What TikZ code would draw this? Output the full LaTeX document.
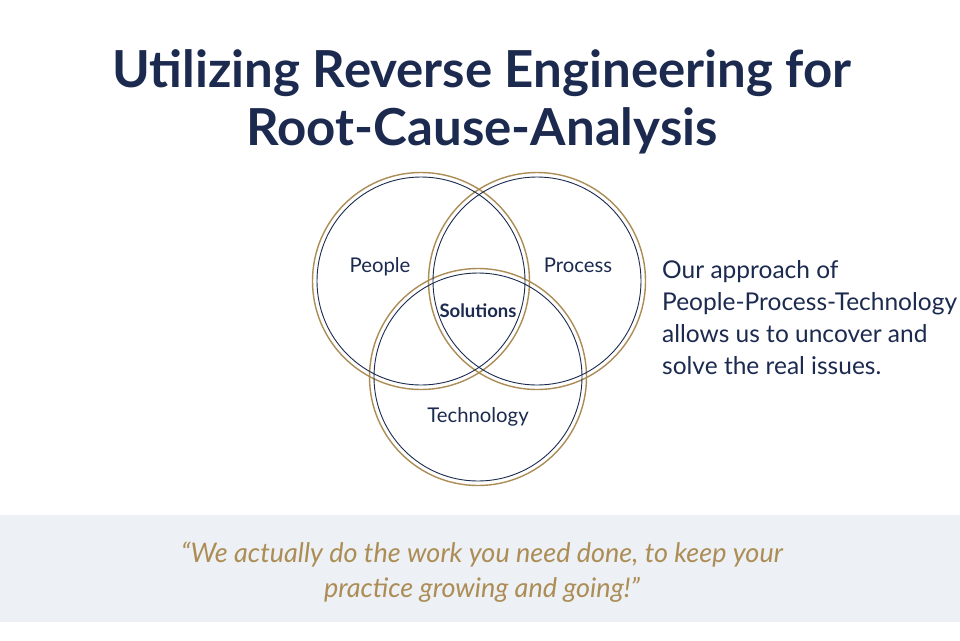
\documentclass[tikz,border=0pt]{standalone}
\usepackage{fontspec}
\setmainfont{Lato}
\usepackage{xcolor}
\usetikzlibrary{positioning}

\definecolor{navy}{HTML}{1B2A4E}
\definecolor{gold}{HTML}{AC8D55}
\definecolor{band}{HTML}{EDF0F4}

\begin{document}
\begin{tikzpicture}[
    x=1pt, y=-1pt,
    ring/.style={draw=gold, line width=1.4pt, circle, minimum size=217pt, inner sep=0pt},
    inring/.style={draw=navy, line width=0.9pt},
    lbl/.style={text=navy, anchor=base, font=\fontsize{20.3}{23}\selectfont},
    quote/.style={text=gold, align=center, font=\fontsize{27}{35}\selectfont\itshape}]
  \useasboundingbox (0,0) rectangle (960,640);
  \fill[white] (0,0) rectangle (960,640);
  \fill[band] (0,515) rectangle (960,622);

  % title
  \node[text=navy, align=center, anchor=base, font=\fontsize{51}{58}\selectfont\bfseries]
    (title) at (482,145) {Utilizing Reverse Engineering for\\Root-Cause-Analysis};

  % venn
  \node[ring] (people) at (421,281) {};
  \node[ring] (process) at (537,281) {};
  \node[ring] (tech) at (478,377) {};
  \draw[inring] (people.center) circle[radius=104pt];
  \draw[inring] (process.center) circle[radius=104pt];
  \draw[inring] (tech.center) circle[radius=104pt];

  \node[lbl] (peoplelbl) at (380,272) {People};
  \node[lbl] (processlbl) at (578,272) {Process};
  \node[lbl, font=\fontsize{18.5}{23}\selectfont\bfseries] (sol) at (478,317) {Solutions};
  \node[lbl] (techlbl) at (478,422) {Technology};

  % side text
  \node[text=navy, align=left, anchor=base west, inner sep=0pt,
        font=\fontsize{24.5}{32}\selectfont] (side) at (662,374)
    {Our approach of\\People-Process-Technology\\allows us to uncover and\\solve the real issues.};

  % quote
  \node[quote, anchor=base] (quote) at (482,597)
    {“We actually do the work you need done, to keep your\\practice growing and going!”};
\end{tikzpicture}
\end{document}
